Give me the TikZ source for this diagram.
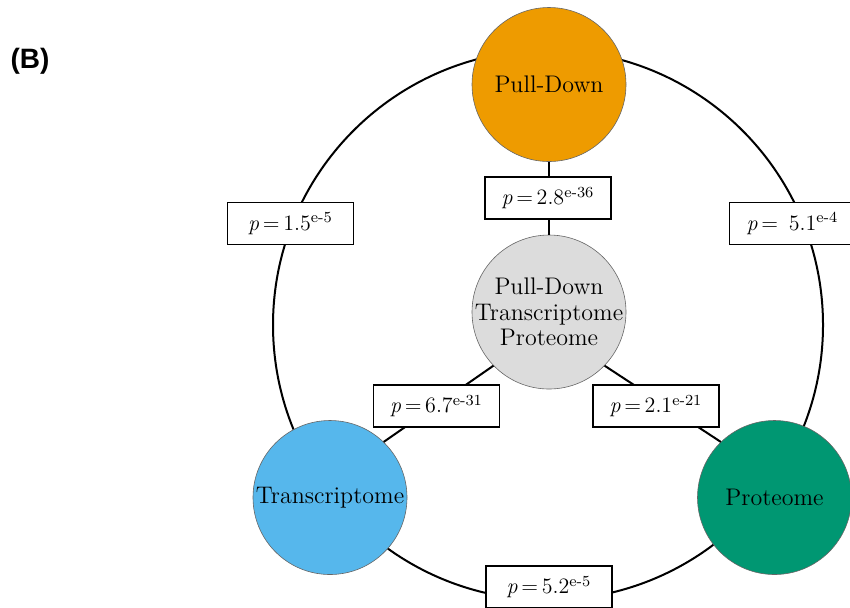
\documentclass[tikz,border=0pt]{standalone}
\usepackage{fontspec}
\newfontfamily\panelfont{Liberation Sans}
\definecolor{pdorange}{HTML}{EE9B00}
\definecolor{trblue}{HTML}{56B7EC}
\definecolor{prgreen}{HTML}{009772}
\definecolor{coregray}{HTML}{DCDCDC}

\begin{document}
\begin{tikzpicture}[x=0.5pt,y=-0.5pt,
  omic/.style={circle,draw=black!60,line width=0.3pt,minimum size=77pt,inner sep=0pt,
    align=center,font=\fontsize{12}{12.75}\selectfont},
  pval/.style={draw,fill=white,line width=0.6pt,minimum width=63pt,minimum height=21pt,
    inner sep=0pt,font=\fontsize{11}{13}\selectfont},
  link/.style={line width=1pt}]
\useasboundingbox (0,0) rectangle (850,607);

% outer ring
\draw[link] (548,325) circle (137.5pt);

% the four sets
\node[omic,fill=pdorange] (pull) at (549,84.5) {Pull-Down};
\node[omic,fill=trblue] (trans) at (330,497.5) {Transcriptome};
\node[omic,fill=prgreen] (prot) at (774.5,497.5) {Proteome};
\node[omic,fill=coregray,inner sep=-6pt] (core) at (549,312) {Pull-Down\\Transcriptome\\Proteome};

% spokes
\draw[link] (pull.south) -- (core.north);
\draw[link] (core.224) -- (trans.46);
\draw[link] (core.316) -- (prot.134);

% p-values
\node[pval] (pcp) at (548,198) {\textit{p}\,=\,2.8\textsuperscript{e-36}};
\node[pval] (pct) at (436.5,406) {\textit{p}\,=\,6.7\textsuperscript{e-31}};
\node[pval] (pcr) at (656,406) {\textit{p}\,=\,2.1\textsuperscript{e-21}};
\node[pval] (ppt) at (290.5,223.5) {\textit{p}\,=\,1.5\textsuperscript{e-5}};
\node[pval] (ppr) at (792.5,223.5) {\textit{p}\,=\ \,5.1\textsuperscript{e-4}};
\node[pval] (ptr) at (549,587) {\textit{p}\,=\,5.2\textsuperscript{e-5}};

\node[font=\panelfont\bfseries\fontsize{14}{16}\selectfont] (panel) at (30,61) {(B)};
\end{tikzpicture}
\end{document}
